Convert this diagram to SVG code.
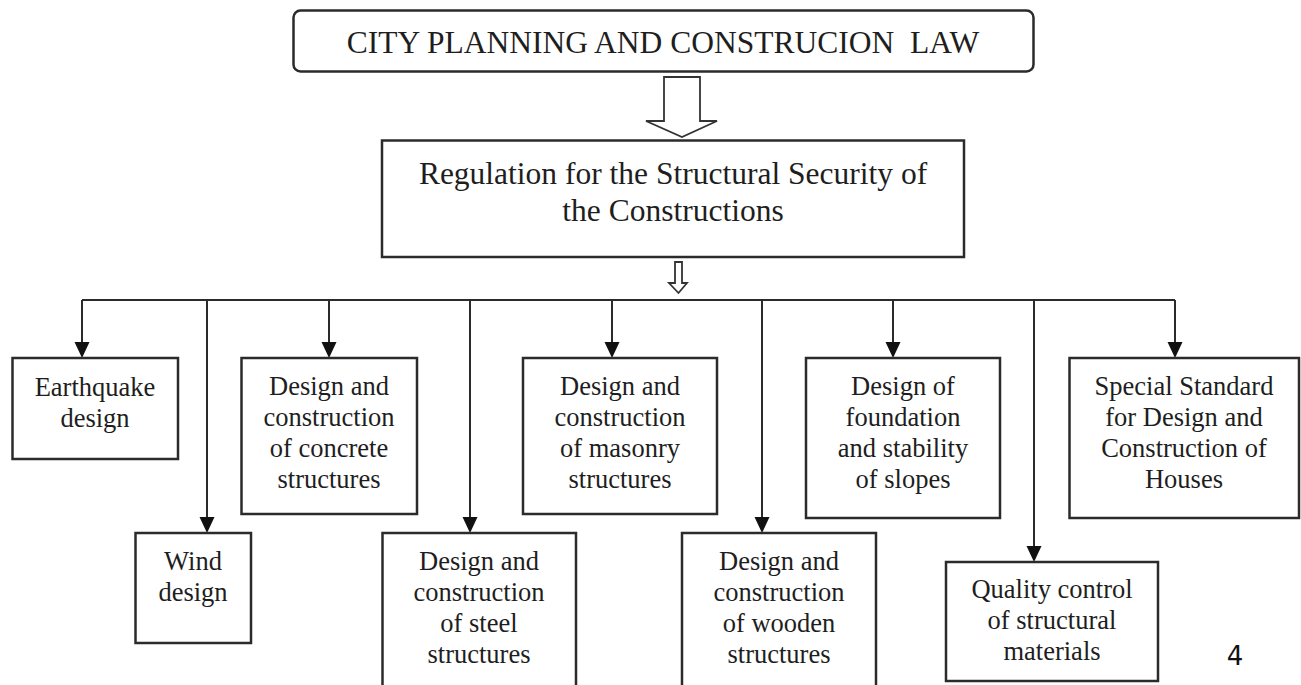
<svg xmlns="http://www.w3.org/2000/svg" width="1301" height="685" viewBox="0 0 1301 685">
<style>
.box{fill:#fff;stroke:#2b2b2b;stroke-width:2.5}
.t{font-family:"Liberation Serif","Times New Roman",serif;fill:#1e1e1e;text-anchor:middle}
.s{font-size:26.5px}
.line{stroke:#2b2b2b;stroke-width:2;fill:none}
.head{fill:#111;stroke:none}
.hollow{fill:#fff;stroke:#333;stroke-width:1.8;stroke-linejoin:miter}
</style>
<rect width="1301" height="685" fill="#fff"/>
<g id="connectors">
<polygon class="hollow" points="664,77 700,77 700,121 717,121 682,137 646,121 664,121"/>
<polygon class="hollow" points="675,262 682,262 682,283 687,283 678.5,293 669,283 675,283"/>
<line class="line" x1="82" y1="300" x2="1175" y2="300"/>
<line class="line" x1="82" y1="300" x2="82" y2="345"/>
<polygon class="head" points="74.5,342 89.5,342 82,358"/>
<line class="line" x1="207" y1="300" x2="207" y2="520"/>
<polygon class="head" points="199.5,517 214.5,517 207,533"/>
<line class="line" x1="329" y1="300" x2="329" y2="345"/>
<polygon class="head" points="321.5,342 336.5,342 329,358"/>
<line class="line" x1="470" y1="300" x2="470" y2="520"/>
<polygon class="head" points="462.5,517 477.5,517 470,533"/>
<line class="line" x1="612" y1="300" x2="612" y2="345"/>
<polygon class="head" points="604.5,342 619.5,342 612,358"/>
<line class="line" x1="762" y1="300" x2="762" y2="520"/>
<polygon class="head" points="754.5,517 769.5,517 762,533"/>
<line class="line" x1="893" y1="300" x2="893" y2="345"/>
<polygon class="head" points="885.5,342 900.5,342 893,358"/>
<line class="line" x1="1034" y1="300" x2="1034" y2="549"/>
<polygon class="head" points="1026.5,546 1041.5,546 1034,562"/>
<line class="line" x1="1175" y1="300" x2="1175" y2="345"/>
<polygon class="head" points="1167.5,342 1182.5,342 1175,358"/>
</g>
<g id="law">
<rect class="box" x="293.5" y="10.5" width="740" height="61" rx="7"/>
<text class="t" x="663" y="53" font-size="31.5">CITY PLANNING AND CONSTRUCION&#160; LAW</text>
</g>
<g id="regulation">
<rect class="box" x="382" y="140.5" width="582" height="116.5"/>
<text class="t" x="673" y="184" font-size="31.5">Regulation for the Structural Security of</text>
<text class="t" x="673" y="221" font-size="31.5">the Constructions</text>
</g>
<g id="earthquake">
<rect class="box" x="12.5" y="358" width="165.5" height="101"/>
<text class="t s" x="95" y="396">Earthquake</text>
<text class="t s" x="95" y="427">design</text>
</g>
<g id="wind">
<rect class="box" x="135.5" y="533" width="115.5" height="110"/>
<text class="t s" x="193" y="570">Wind</text>
<text class="t s" x="193" y="601">design</text>
</g>
<g id="concrete">
<rect class="box" x="241.5" y="358" width="175.5" height="156"/>
<text class="t s" x="329" y="395">Design and</text>
<text class="t s" x="329" y="426">construction</text>
<text class="t s" x="329" y="457">of concrete</text>
<text class="t s" x="329" y="488">structures</text>
</g>
<g id="steel">
<rect class="box" x="382.5" y="533" width="193.5" height="170"/>
<text class="t s" x="479" y="570">Design and</text>
<text class="t s" x="479" y="601">construction</text>
<text class="t s" x="479" y="632">of steel</text>
<text class="t s" x="479" y="663">structures</text>
</g>
<g id="masonry">
<rect class="box" x="523" y="358" width="194" height="156"/>
<text class="t s" x="620" y="395">Design and</text>
<text class="t s" x="620" y="426">construction</text>
<text class="t s" x="620" y="457">of masonry</text>
<text class="t s" x="620" y="488">structures</text>
</g>
<g id="wooden">
<rect class="box" x="682" y="533" width="194" height="170"/>
<text class="t s" x="779" y="570">Design and</text>
<text class="t s" x="779" y="601">construction</text>
<text class="t s" x="779" y="632">of wooden</text>
<text class="t s" x="779" y="663">structures</text>
</g>
<g id="foundation">
<rect class="box" x="806" y="358" width="194" height="160"/>
<text class="t s" x="903" y="395">Design of</text>
<text class="t s" x="903" y="426">foundation</text>
<text class="t s" x="903" y="457">and stability</text>
<text class="t s" x="903" y="488">of slopes</text>
</g>
<g id="quality">
<rect class="box" x="946" y="562" width="212" height="119"/>
<text class="t s" x="1052" y="598">Quality control</text>
<text class="t s" x="1052" y="629">of structural</text>
<text class="t s" x="1052" y="660">materials</text>
</g>
<g id="special">
<rect class="box" x="1069.5" y="358" width="229.5" height="160"/>
<text class="t s" x="1184" y="395">Special Standard</text>
<text class="t s" x="1184" y="426">for Design and</text>
<text class="t s" x="1184" y="457">Construction of</text>
<text class="t s" x="1184" y="488">Houses</text>
</g>
<text x="1235" y="665" font-family="'DejaVu Sans','Liberation Sans',sans-serif" font-size="26" fill="#111" text-anchor="middle">4</text>
</svg>
